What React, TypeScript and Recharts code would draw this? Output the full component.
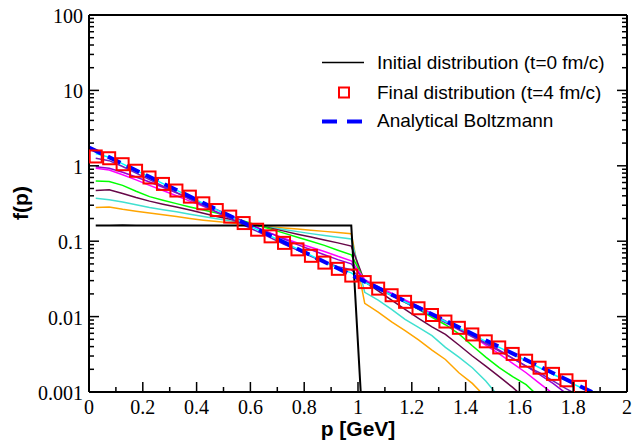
import { ComposedChart, Line, XAxis, YAxis } from 'recharts'

// bin centres (GeV)
const pBins = [
  0.025, 0.075, 0.125, 0.175, 0.225, 0.275, 0.325, 0.375, 0.425, 0.475,
  0.525, 0.575, 0.625, 0.675, 0.725, 0.775, 0.825, 0.875, 0.925, 0.975,
  1.025, 1.075, 1.125, 1.175, 1.225, 1.275, 1.325, 1.375, 1.425, 1.475,
  1.525, 1.575, 1.625, 1.675, 1.725, 1.775, 1.825, 1.875,
]

const initialF = [
  0.161, 0.162, 0.163, 0.162, 0.161, 0.162, 0.162, 0.161, 0.162, 0.162,
  0.162, 0.161, 0.162, 0.162, 0.162, 0.161, 0.162, 0.162, 0.162, 0.162,
  0.000115,
]

const finalF = [
  1.33, 1.26, 1.05, 0.86, 0.7, 0.575, 0.47, 0.39, 0.318, 0.259,
  0.212, 0.174, 0.142, 0.116, 0.095, 0.078, 0.064, 0.052, 0.043, 0.035,
  0.0287, 0.0235, 0.0192, 0.0157, 0.0129, 0.0105, 0.0086, 0.0071, 0.0058, 0.0047,
  0.0039, 0.0032, 0.0026, 0.0021, 0.00174, 0.00143, 0.00117,
]

const boltzP = [0, 0.5, 1.0, 1.5, 1.87]
const boltzF = [1.75, 0.238, 0.0323, 0.00438, 0.001]

// intermediate times
const orangeF = [
  0.28, 0.285, 0.265, 0.25, 0.237, 0.224, 0.212, 0.2, 0.19, 0.182,
  0.175, 0.168, 0.162, 0.156, 0.15, 0.145, 0.14, 0.135, 0.13, 0.126,
  0.015, 0.0115, 0.0085, 0.0065, 0.0049, 0.0036, 0.0027, 0.0018, 0.0013, 0.00085,
]
const turquoiseF = [
  0.37, 0.355, 0.33, 0.305, 0.28, 0.262, 0.245, 0.228, 0.212, 0.198,
  0.186, 0.175, 0.163, 0.152, 0.143, 0.134, 0.126, 0.119, 0.113, 0.107,
  0.021, 0.0165, 0.0125, 0.0092, 0.0072, 0.0056, 0.0039, 0.0029, 0.0021, 0.0014,
  0.00085,
]
const maroonF = [
  0.47, 0.48, 0.43, 0.38, 0.34, 0.31, 0.285, 0.26, 0.235, 0.213,
  0.195, 0.178, 0.163, 0.149, 0.136, 0.124, 0.114, 0.104, 0.095, 0.086,
  0.029, 0.022, 0.0165, 0.0125, 0.0095, 0.0073, 0.0058, 0.0042, 0.003, 0.0022,
  0.0016, 0.00115, 0.0008,
]
const greenF = [
  0.63, 0.62, 0.55, 0.46, 0.39, 0.35, 0.315, 0.285, 0.26, 0.236,
  0.21, 0.185, 0.163, 0.145, 0.128, 0.113, 0.1, 0.088, 0.076, 0.066,
  0.03, 0.0235, 0.0195, 0.0155, 0.0125, 0.0098, 0.0078, 0.0059, 0.0041, 0.0029,
  0.0021, 0.0016, 0.00125, 0.00085,
]
const magentaF = [
  0.93, 0.88, 0.76, 0.65, 0.55, 0.47, 0.4, 0.34, 0.29, 0.245,
  0.208, 0.177, 0.15, 0.128, 0.11, 0.095, 0.083, 0.073, 0.063, 0.055,
  0.031, 0.025, 0.0205, 0.0167, 0.0136, 0.011, 0.0088, 0.007, 0.0055, 0.0042,
  0.0032, 0.0024, 0.0018, 0.0013, 0.00095,
]
const violetF = [
  0.97, 0.93, 0.82, 0.71, 0.61, 0.52, 0.44, 0.37, 0.31, 0.262,
  0.22, 0.183, 0.152, 0.127, 0.107, 0.09, 0.077, 0.066, 0.057, 0.05,
  0.03, 0.0238, 0.0195, 0.016, 0.013, 0.0106, 0.0086, 0.0069, 0.0056, 0.0045,
  0.0036, 0.0028, 0.0022, 0.0017, 0.0013, 0.00095,
]
const indigoF = [
  1.26, 1.17, 0.98, 0.8, 0.655, 0.535, 0.44, 0.36, 0.295, 0.242,
  0.199, 0.164, 0.135, 0.111, 0.091, 0.076, 0.063, 0.053, 0.046, 0.042,
  0.029, 0.0235, 0.019, 0.0155, 0.0126, 0.0102, 0.0083, 0.0067, 0.0054, 0.0044,
  0.0035, 0.0028, 0.0022, 0.0018, 0.0014, 0.0011, 0.00088,
]
const cyanF = [
  1.45, 1.3, 1.06, 0.87, 0.71, 0.58, 0.475, 0.39, 0.318, 0.26,
  0.213, 0.174, 0.143, 0.117, 0.096, 0.079, 0.065, 0.053, 0.044, 0.038,
  0.0285, 0.0234, 0.0192, 0.0157, 0.0129, 0.0105, 0.0086, 0.0071, 0.0058, 0.0047,
  0.0039, 0.0032, 0.0026, 0.0021, 0.00172, 0.00141, 0.00116, 0.00095,
]

const midCurves = [
  { name: 'orange', color: '#ffa500', values: orangeF },
  { name: 'turquoise', color: '#40e0d0', values: turquoiseF },
  { name: 'maroon', color: '#670748', values: maroonF },
  { name: 'green', color: '#00ff00', values: greenF },
  { name: 'magenta', color: '#ff00ff', values: magentaF },
  { name: 'violet', color: '#9400d3', values: violetF },
  { name: 'indigo', color: '#7221bc', values: indigoF },
  { name: 'cyan', color: '#00ffff', values: cyanF },
]

const xTicks = [0, 0.1, 0.2, 0.3, 0.4, 0.5, 0.6, 0.7, 0.8, 0.9, 1, 1.1, 1.2, 1.3, 1.4, 1.5, 1.6, 1.7, 1.8, 1.9, 2]
const yDecades = [0.001, 0.01, 0.1, 1, 10, 100]
const yLabels = ['0.001', '0.01', '0.1', '1', '10', '100']
const yTicks: number[] = []
yDecades.forEach((d, i) => {
  yTicks.push(d)
  if (i < yDecades.length - 1) for (let k = 2; k <= 9; k++) yTicks.push(+(d * k).toPrecision(3))
})

const pts = (xs: number[], ys: number[]) => ys.map((f, i) => ({ p: xs[i], f }))

const SERIF = 'Liberation Serif, Times New Roman, Times, serif'
const SANS = 'Liberation Sans, Arial, Helvetica, sans-serif'

const isMajorX = (v: number) => Math.round(v * 10) % 2 === 0
const isMajorY = (v: number) => Math.abs(Math.log10(v) - Math.round(Math.log10(v))) < 1e-6

const BottomTick = ({ x, y, payload }: any) => {
  const major = isMajorX(payload.value)
  return (
    <g>
      <line x1={x} x2={x} y1={y} y2={y - (major ? 10 : 5)} stroke="#000" strokeWidth={1.5} />
      {major && (
        <text x={x} y={y + 22} textAnchor="middle" style={{ fontFamily: SERIF }} fontSize={20} fill="#000">
          {String(Math.round(payload.value * 10) / 10)}
        </text>
      )}
    </g>
  )
}

const TopTick = ({ x, y, payload }: any) => {
  const major = isMajorX(payload.value)
  return <line x1={x} x2={x} y1={y} y2={y + (major ? 10 : 5)} stroke="#000" strokeWidth={1.5} />
}

const LeftTick = ({ x, y, payload }: any) => {
  const major = isMajorY(payload.value)
  const idx = yDecades.findIndex((d) => Math.abs(d - payload.value) / d < 1e-6)
  return (
    <g>
      <line x1={x} x2={x + (major ? 10 : 5)} y1={y} y2={y} stroke="#000" strokeWidth={1.5} />
      {major && idx >= 0 && (
        <text x={x - 6} y={y + 8} textAnchor="end" style={{ fontFamily: SERIF }} fontSize={20} fill="#000">
          {yLabels[idx]}
        </text>
      )}
    </g>
  )
}

const RightTick = ({ x, y, payload }: any) => {
  const major = isMajorY(payload.value)
  return <line x1={x} x2={x - (major ? 10 : 5)} y1={y} y2={y} stroke="#000" strokeWidth={1.5} />
}

const Square = (props: any) => {
  const { cx, cy, index } = props
  if (cx == null || cy == null) return <g key={index} />
  return <rect key={index} x={cx - 6} y={cy - 6} width={12} height={12} fill="none" stroke="#ff0000" strokeWidth={2} />
}

export default function App() {
  return (
    <div style={{ position: 'absolute', left: 0, top: 0, width: 634, height: 441, background: '#fff' }}>
      <ComposedChart width={634} height={441} margin={{ top: 14, right: 6, bottom: 0, left: 0 }}>
        <XAxis
          xAxisId="b"
          dataKey="p"
          type="number"
          domain={[0, 2]}
          ticks={xTicks}
          interval={0}
          height={49}
          tickSize={0}
          tickMargin={0}
          tickLine={false}
          tick={BottomTick}
          axisLine={{ stroke: '#000', strokeWidth: 2 }}
          allowDataOverflow
        />
        <XAxis
          xAxisId="t"
          orientation="top"
          type="number"
          domain={[0, 2]}
          ticks={xTicks}
          interval={0}
          height={1}
          tickSize={0}
          tickMargin={0}
          tickLine={false}
          tick={TopTick}
          axisLine={{ stroke: '#000', strokeWidth: 2 }}
          allowDataOverflow
        />
        <YAxis
          yAxisId="l"
          type="number"
          scale="log"
          domain={[0.001, 100]}
          ticks={yTicks}
          interval={0}
          width={89}
          tickSize={0}
          tickMargin={0}
          tickLine={false}
          tick={LeftTick}
          axisLine={{ stroke: '#000', strokeWidth: 2 }}
          allowDataOverflow
        />
        <YAxis
          yAxisId="r"
          orientation="right"
          type="number"
          scale="log"
          domain={[0.001, 100]}
          ticks={yTicks}
          interval={0}
          width={1}
          tickSize={0}
          tickMargin={0}
          tickLine={false}
          tick={RightTick}
          axisLine={{ stroke: '#000', strokeWidth: 2 }}
          allowDataOverflow
        />

        {midCurves.map((c) => (
          <Line
            key={c.name}
            xAxisId="b"
            yAxisId="l"
            data={pts(pBins, c.values)}
            dataKey="f"
            stroke={c.color}
            strokeWidth={1.5}
            dot={false}
            activeDot={false}
            isAnimationActive={false}
          />
        ))}

        <Line
          xAxisId="b"
          yAxisId="l"
          data={pts(pBins, initialF)}
          dataKey="f"
          stroke="#000"
          strokeWidth={2}
          dot={false}
          activeDot={false}
          isAnimationActive={false}
        />

        <Line
          xAxisId="b"
          yAxisId="l"
          data={pts(pBins, finalF)}
          dataKey="f"
          stroke="none"
          dot={Square}
          activeDot={false}
          isAnimationActive={false}
        />

        <Line
          xAxisId="b"
          yAxisId="l"
          data={pts(boltzP, boltzF)}
          dataKey="f"
          stroke="#0000ff"
          strokeWidth={4}
          strokeDasharray="14 7"
          dot={false}
          activeDot={false}
          isAnimationActive={false}
        />
      </ComposedChart>

      <svg width={634} height={441} style={{ position: 'absolute', left: 0, top: 0, pointerEvents: 'none' }}>
        <line x1={322} x2={364} y1={62.5} y2={62.5} stroke="#000" strokeWidth={1.5} />
        <text x={377} y={68.5} style={{ fontFamily: SANS }} fontSize={19} fill="#000">Initial distribution (t=0 fm/c)</text>
        <rect x={339} y={87.5} width={10} height={10} fill="none" stroke="#ff0000" strokeWidth={2} />
        <text x={377} y={98.5} style={{ fontFamily: SANS }} fontSize={19} fill="#000">Final distribution (t=4 fm/c)</text>
        <line x1={322} x2={364} y1={121.5} y2={121.5} stroke="#0000ff" strokeWidth={4} strokeDasharray="15 10" />
        <text x={377} y={127} style={{ fontFamily: SANS }} fontSize={19} fill="#000">Analytical Boltzmann</text>

        <text x={358} y={436} textAnchor="middle" style={{ fontFamily: SANS }} fontSize={21} fontWeight="bold" fill="#000">
          p [GeV]
        </text>
        <text
          x={28}
          y={203}
          textAnchor="middle"
          style={{ fontFamily: SANS }}
          fontSize={21}
          fontWeight="bold"
          fill="#000"
          transform="rotate(-90, 28, 203)"
        >
          f(p)
        </text>
      </svg>
    </div>
  )
}
